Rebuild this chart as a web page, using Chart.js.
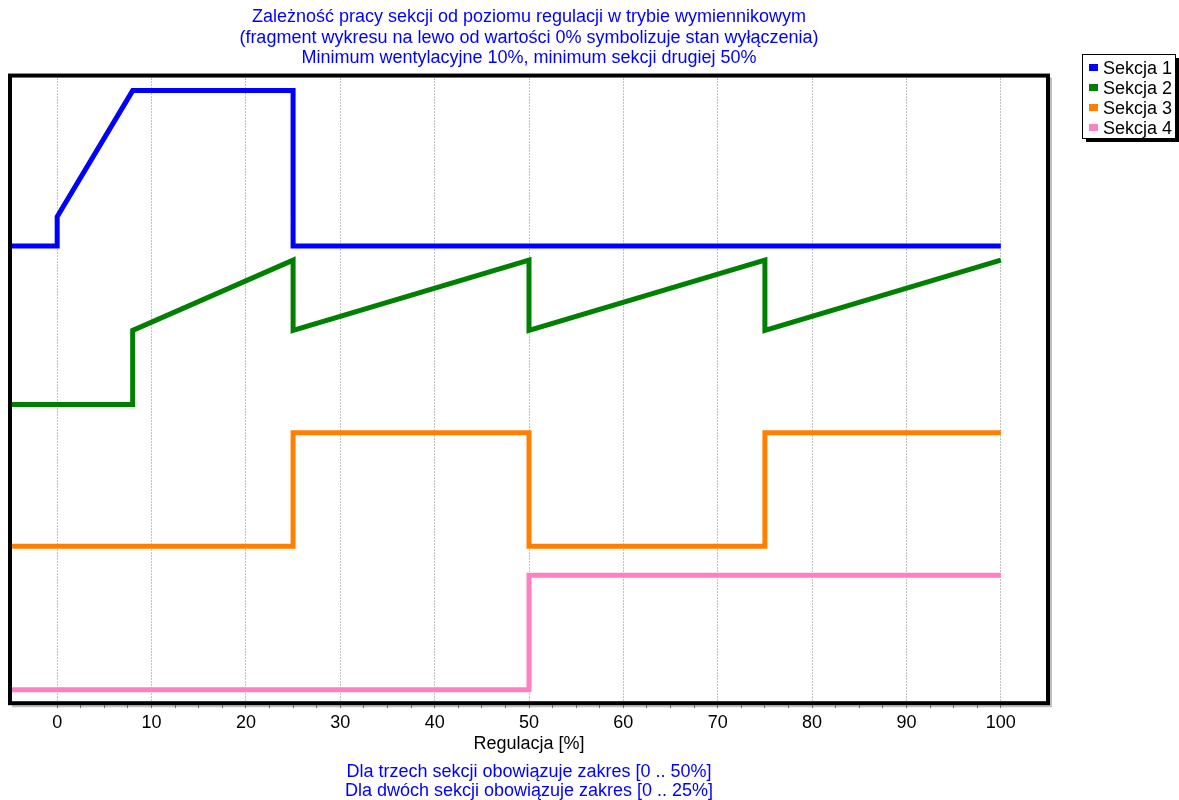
<!DOCTYPE html>
<html>
<head>
<meta charset="utf-8">
<script src="https://cdn.jsdelivr.net/npm/chart.js@4/dist/chart.umd.min.js"></script>
<style>
  html, body { margin: 0; padding: 0; background: #fff; }
  #wrap { width: 1179px; height: 800px; position: relative; }
</style>
</head>
<body>
<div id="wrap"><canvas id="c" width="1179" height="800"></canvas></div>
<script>
// ---- data ----
const titleLines = [
  "Zależność pracy sekcji od poziomu regulacji w trybie wymiennikowym",
  "(fragment wykresu na lewo od wartości 0% symbolizuje stan wyłączenia)",
  "Minimum wentylacyjne 10%, minimum sekcji drugiej 50%"
];
const subtitleLines = [
  "Dla trzech sekcji obowiązuje zakres [0 .. 50%]",
  "Dla dwóch sekcji obowiązuje zakres [0 .. 25%]"
];
const xAxisTitle = "Regulacja [%]";
const seriesNames = ["Sekcja 1", "Sekcja 2", "Sekcja 3", "Sekcja 4"];

const regulacja1 = [-5, 0, 0, 8, 25, 25, 100];
const sekcja1    = [72.85, 72.85, 77.5, 97.6, 97.6, 72.85, 72.85];

const regulacja2 = [-5, 8, 8, 25, 25, 50, 50, 75, 75, 100];
const sekcja2    = [47.6, 47.6, 59.4, 70.6, 59.4, 70.6, 59.4, 70.6, 59.4, 70.6];

const regulacja3 = [-5, 25, 25, 50, 50, 75, 75, 100];
const sekcja3    = [25.0, 25.0, 43.1, 43.1, 25.0, 25.0, 43.1, 43.1];

const regulacja4 = [-5, 50, 50, 100];
const sekcja4    = [2.15, 2.15, 20.4, 20.4];

const xTickValues = [0, 10, 20, 30, 40, 50, 60, 70, 80, 90, 100];

// ---- styling ----
const colors = ["#0000FF", "#008000", "#FF8000", "#FF80C0"];
const FONT = "Arial, 'Liberation Sans', sans-serif";

function pts(xs, ys) { return xs.map((x, i) => ({ x: x, y: ys[i] })); }

const seriesX = [regulacja1, regulacja2, regulacja3, regulacja4];
const seriesY = [sekcja1, sekcja2, sekcja3, sekcja4];

const datasets = seriesNames.map((name, i) => ({
  label: name,
  data: pts(seriesX[i], seriesY[i]),
  borderColor: colors[i],
  backgroundColor: colors[i],
  borderWidth: 5,
  pointRadius: 0,
  tension: 0,
  fill: false,
  borderJoinStyle: 'miter',
  borderCapStyle: 'butt'
}));

const framePlugin = {
  id: 'frame',
  afterDraw(chart) {
    const ctx = chart.ctx, a = chart.chartArea;
    ctx.save();
    ctx.strokeStyle = 'rgba(0,0,0,0.25)';
    ctx.lineWidth = 2;
    ctx.beginPath();
    ctx.moveTo(a.left + 2, a.bottom + 3);
    ctx.lineTo(a.right + 3, a.bottom + 3);
    ctx.lineTo(a.right + 3, a.top + 2);
    ctx.stroke();
    ctx.strokeStyle = '#000';
    ctx.lineWidth = 4;
    ctx.strokeRect(a.left, a.top, a.right - a.left, a.bottom - a.top);
    ctx.restore();
  }
};

const legendPlugin = {
  id: 'boxLegend',
  afterDraw(chart) {
    const ctx = chart.ctx;
    const x = 1082, y = 54, w = 93, h = 84;
    ctx.save();
    ctx.fillStyle = '#000';
    ctx.fillRect(x + 4, y + 4, w, h);
    ctx.fillStyle = '#fff';
    ctx.fillRect(x, y, w, h);
    ctx.strokeStyle = '#000';
    ctx.lineWidth = 1;
    ctx.strokeRect(x + 0.5, y + 0.5, w, h);
    ctx.font = "18px " + FONT;
    ctx.textBaseline = 'middle';
    chart.data.datasets.forEach((ds, i) => {
      const cy = y + 14 + i * 20;
      ctx.fillStyle = ds.borderColor;
      ctx.fillRect(x + 7, cy - 4, 9, 7);
      ctx.fillStyle = '#000';
      ctx.fillText(ds.label, x + 21, cy + 1);
    });
    ctx.restore();
  }
};

new Chart(document.getElementById('c'), {
  type: 'line',
  data: { datasets: datasets },
  options: {
    responsive: false,
    animation: false,
    devicePixelRatio: 1,
    layout: { padding: { left: 10, right: 131, top: 0, bottom: 0 } },
    plugins: {
      legend: { display: false },
      tooltip: { enabled: false },
      title: {
        display: true,
        text: titleLines,
        color: '#0000FF',
        font: { family: FONT, size: 18, weight: 'normal', lineHeight: 1.14 },
        padding: { top: 7, bottom: 7 }
      },
      subtitle: {
        display: true,
        position: 'bottom',
        text: subtitleLines,
        color: '#0000FF',
        font: { family: FONT, size: 18, weight: 'normal', lineHeight: 1.05 },
        padding: { top: 7, bottom: 0 }
      }
    },
    scales: {
      x: {
        type: 'linear',
        min: -5,
        max: 105,
        afterBuildTicks(scale) {
          const t = [];
          for (let v = 0; v <= 100; v += 2.5) t.push({ value: v });
          scale.ticks = t;
        },
        afterFit(scale) { scale.height = 52; },
        ticks: {
          color: '#000',
          font: { family: FONT, size: 18, lineHeight: 1.2 },
          padding: 4,
          maxRotation: 0,
          autoSkip: false,
          callback(v) { return xTickValues.includes(v) ? String(v) : ''; }
        },
        grid: {
          display: true,
          drawOnChartArea: true,
          drawTicks: true,
          tickLength: 5,
          lineWidth: 1,
          color(ctx) {
            const v = ctx.tick && ctx.tick.value;
            return xTickValues.includes(v) ? 'rgba(120,120,120,0.9)' : 'rgba(0,0,0,0)';
          },
          tickColor: 'rgba(120,120,120,0.9)'
        },
        border: { display: false, dash: [1, 2] },
        title: {
          display: true,
          text: xAxisTitle,
          color: '#000',
          font: { family: FONT, size: 18, lineHeight: 1.2 },
          padding: { top: 0, bottom: 0 }
        }
      },
      y: {
        display: false,
        min: 0,
        max: 100
      }
    }
  },
  plugins: [framePlugin, legendPlugin]
});
</script>
</body>
</html>
